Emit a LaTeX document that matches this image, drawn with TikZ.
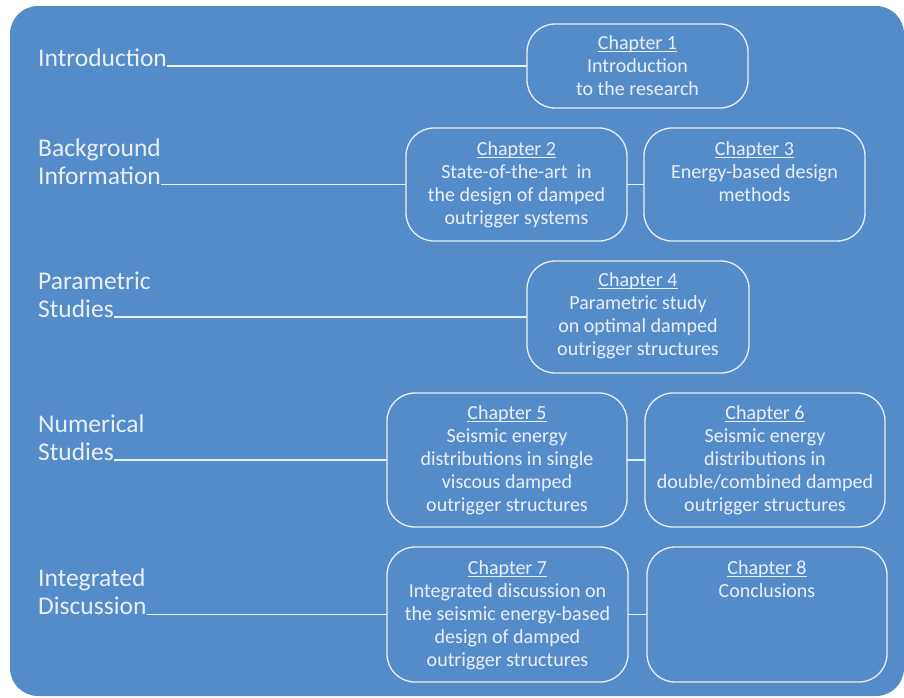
\documentclass[tikz,border=0pt]{standalone}
\usepackage{fontspec}
\setmainfont{Carlito}
\definecolor{bgblue}{HTML}{548CCA}
\definecolor{fg}{HTML}{EAF0F8}
\newcommand\chul[1]{\setbox0\hbox{#1}\rlap{\rule[-2.4pt]{\wd0}{0.9pt}}\box0}
\begin{document}
\begin{tikzpicture}[x=1pt,y=-1pt,
 box/.style={draw=fg, line width=1.3pt, rounded corners=28pt, inner sep=0pt, outer sep=0pt},
 txt/.style={text=fg, align=center, inner sep=0pt, anchor=north, font=\fontsize{20}{23}\selectfont},
 lbl/.style={text=fg, inner sep=0pt, anchor=base west, font=\fontsize{25.5}{29}\selectfont},
 conn/.style={draw=fg, line width=1.3pt}]
\useasboundingbox (0,0) rectangle (904,697);
\fill[bgblue, rounded corners=28pt] (10,6) rectangle (904,696);

% chapter boxes
\node[box, minimum width=221pt, minimum height=84pt]  (ch1) at (637.5,66) {};
\node[box, minimum width=221pt, minimum height=113pt] (ch2) at (516.5,184.5) {};
\node[box, minimum width=221pt, minimum height=113pt] (ch3) at (754.5,184.5) {};
\node[box, minimum width=222pt, minimum height=112pt] (ch4) at (638,317) {};
\node[box, minimum width=240pt, minimum height=134pt] (ch5) at (507,460) {};
\node[box, minimum width=240pt, minimum height=134pt] (ch6) at (765,460) {};
\node[box, minimum width=241pt, minimum height=135pt] (ch7) at (507.5,614.5) {};
\node[box, minimum width=240pt, minimum height=135pt] (ch8) at (767,614.5) {};

% chapter texts
\node[txt] (t1) at ([yshift=-11pt]ch1.north) {\chul{Chapter 1}\\Introduction\\to the research};
\node[txt] (t2) at ([yshift=-13pt]ch2.north) {\chul{Chapter 2}\\State-of-the-art\ \ in\\the design of damped\\outrigger systems};
\node[txt] (t3) at ([yshift=-13pt]ch3.north) {\chul{Chapter 3}\\Energy-based design\\methods};
\node[txt] (t4) at ([yshift=-11pt]ch4.north) {\chul{Chapter 4}\\Parametric study\\on optimal damped\\outrigger structures};
\node[txt] (t5) at ([yshift=-12pt]ch5.north) {\chul{Chapter 5}\\Seismic energy\\distributions in single\\viscous damped\\outrigger structures};
\node[txt] (t6) at ([yshift=-12pt]ch6.north) {\chul{Chapter 6}\\Seismic energy\\distributions in\\double/combined damped\\outrigger structures};
\node[txt] (t7) at ([yshift=-13pt]ch7.north) {\chul{Chapter 7}\\Integrated discussion on\\the seismic energy-based\\design of damped\\outrigger structures};
\node[txt] (t8) at ([yshift=-13pt]ch8.north) {\chul{Chapter 8}\\Conclusions};

% left labels
\node[lbl] (l1)  at (38,66) {Introduction};
\node[lbl] (l2a) at (38,156.5) {Background};
\node[lbl] (l2)  at (38,184.5) {Information};
\node[lbl] (l4a) at (38,289) {Parametric};
\node[lbl] (l4)  at (38,317) {Studies};
\node[lbl] (l5a) at (38,432) {Numerical};
\node[lbl] (l5)  at (38,460) {Studies};
\node[lbl] (l7a) at (38,586.5) {Integrated};
\node[lbl] (l7)  at (38,614.5) {Discussion};

% connectors
\draw[conn] (l1.base east) -- (ch1.west);
\draw[conn] (l2.base east) -- (ch2.west);
\draw[conn] (ch2.east) -- (ch3.west);
\draw[conn] (l4.base east) -- (ch4.west);
\draw[conn] (l5.base east) -- (ch5.west);
\draw[conn] (ch5.east) -- (ch6.west);
\draw[conn] (l7.base east) -- (ch7.west);
\draw[conn] (ch7.east) -- (ch8.west);
\end{tikzpicture}
\end{document}
